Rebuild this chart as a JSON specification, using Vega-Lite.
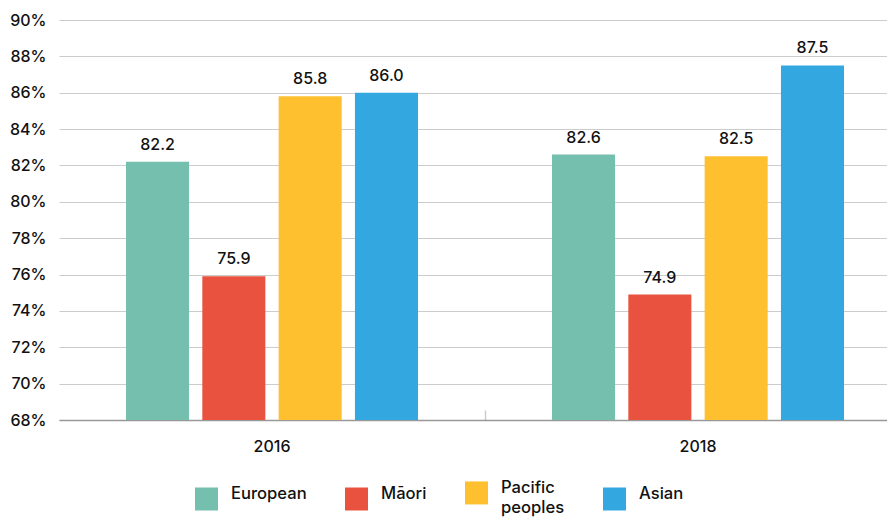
{
  "$schema": "https://vega.github.io/schema/vega-lite/v6.json",
  "width": 825,
  "height": 400,
  "autosize": {"type": "none"},
  "padding": {"left": 62, "top": 20, "right": 0, "bottom": 106},
  "background": "white",
  "config": {
    "view": {"stroke": null},
    "font": "Inter",
    "style": {"guide-label": {"lineHeight": 20}}
  },
  "data": {
    "values": [
      {"year": "2016", "group": "European", "value": 82.2},
      {"year": "2016", "group": "Māori", "value": 75.9},
      {"year": "2016", "group": "Pacific peoples", "value": 85.8},
      {"year": "2016", "group": "Asian", "value": 86.0},
      {"year": "2018", "group": "European", "value": 82.6},
      {"year": "2018", "group": "Māori", "value": 74.9},
      {"year": "2018", "group": "Pacific peoples", "value": 82.5},
      {"year": "2018", "group": "Asian", "value": 87.5}
    ]
  },
  "encoding": {
    "x": {
      "field": "year",
      "type": "nominal",
      "title": null,
      "scale": {"range": [-3, 849], "paddingInner": 0, "paddingOuter": 0},
      "axis": {
        "labelAngle": 0,
        "labelFontSize": 16,
        "labelFontWeight": 500,
        "labelColor": "#111111",
        "labelPadding": 28,
        "labelBound": false,
        "bandPosition": 0,
        "domainColor": "#999999",
        "domainWidth": 1.5,
        "tickColor": "#cccccc",
        "tickOpacity": {"condition": {"test": "datum.value == '2016'", "value": 0}, "value": 1},
        "tickWidth": 1.5,
        "tickSize": -10
      }
    },
    "xOffset": {
      "field": "group",
      "type": "nominal",
      "sort": ["European", "Māori", "Pacific peoples", "Asian"],
      "scale": {"paddingInner": 0.174, "paddingOuter": 0.878}
    },
    "y": {
      "field": "value",
      "type": "quantitative",
      "title": null,
      "scale": {"domain": [68, 90], "zero": false, "nice": false},
      "axis": {
        "values": [68, 70, 72, 74, 76, 78, 80, 82, 84, 86, 88, 90],
        "labelExpr": "datum.value + '%'",
        "labelFontSize": 16,
        "labelFontWeight": 500,
        "labelColor": "#111111",
        "labelPadding": 16,
        "domain": false,
        "ticks": false,
        "gridColor": "#cccccc",
        "gridWidth": 1.2
      }
    }
  },
  "layer": [
    {
      "mark": {"type": "bar", "clip": true},
      "encoding": {
        "color": {
          "field": "group",
          "type": "nominal",
          "sort": ["European", "Māori", "Pacific peoples", "Asian"],
          "scale": {
            "domain": ["European", "Māori", "Pacific peoples", "Asian"],
            "range": ["#74BFAE", "#E8523F", "#FEC02F", "#33A7DF"]
          },
          "legend": {
            "title": null,
            "orient": "none",
            "legendX": 133,
            "legendY": 461,
            "direction": "horizontal",
            "symbolType": "square",
            "symbolSize": 529,
            "symbolStrokeWidth": 0,
            "symbolOpacity": 1,
            "labelFontSize": 16.6,
            "labelFontWeight": 500,
            "labelColor": "#111111",
            "labelOffset": 13,
            "labelBaseline": "alphabetic",
            "columnPadding": 38,
            "labelLimit": 200,
            "labelExpr": "datum.label == 'Pacific peoples' ? ['Pacific', 'peoples'] : datum.label"
          }
        }
      }
    },
    {
      "mark": {"type": "text", "baseline": "bottom", "dy": -9, "fontSize": 16, "fontWeight": 500, "color": "#111111"},
      "encoding": {
        "text": {"field": "value", "type": "quantitative", "format": ".1f"}
      }
    }
  ]
}
